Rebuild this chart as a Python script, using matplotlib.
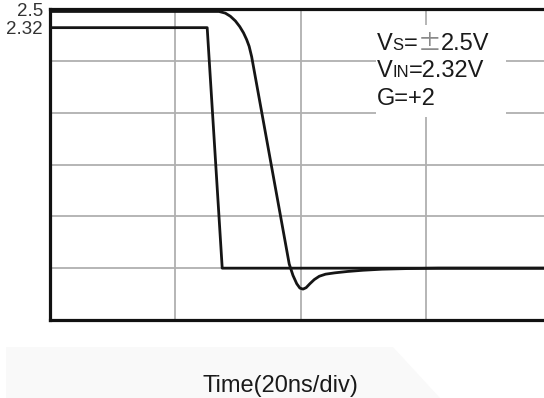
import matplotlib
matplotlib.use("Agg")
import matplotlib.pyplot as plt
import matplotlib.transforms as mtransforms
from matplotlib.patches import Rectangle, Polygon
import numpy as np

plt.rcParams["font.family"] = ["Liberation Sans", "DejaVu Sans"]

# time axis in ns (20 ns/div), voltage in V (0.5 V/div)
T_SPAN = 80
V_MIN, V_MAX = -0.5, 2.5

# input step
vin_t = [0.0, 25.1, 27.5, 80.0]
vin_v = [2.32, 2.32, 0.0, 0.0]

# output response (G=+2, clipped at the rail, then slews down)
vout_t = [0.0, 27.0, 28.0, 28.8, 29.6, 30.3, 30.9, 31.4, 31.8, 32.2,
          33.7, 35.2, 36.7, 38.2, 38.8, 39.4, 39.9, 40.4, 40.9, 41.5,
          42.2, 43.0, 44.0, 45.5, 47.5, 50.0, 53.0, 57.0, 62.0, 80.0]
vout_v = [2.476, 2.476, 2.460, 2.430, 2.385, 2.330, 2.270, 2.205, 2.140, 2.040,
          1.540, 1.040, 0.540, 0.040, -0.070, -0.150, -0.192, -0.202, -0.188, -0.150,
          -0.110, -0.078, -0.058, -0.045, -0.032, -0.020, -0.010, -0.004, 0.0, 0.0]

y_labels = [2.5, 2.32]

fig = plt.figure(figsize=(5.44, 3.98), dpi=100)
W, H = 544, 398

# faint backdrop behind the axis caption
fig.patches.append(Polygon([(6 / W, 0), (6 / W, 51 / H), (393 / W, 51 / H), (440 / W, 0)],
                           closed=True, transform=fig.transFigure,
                           facecolor="#f9f9f9", edgecolor="none", zorder=0))

ax = fig.add_axes([50 / W, 78 / H, 501 / W, 311 / H])
ax.set_xlim(0, T_SPAN)
ax.set_ylim(V_MIN, V_MAX)

ax.set_xticks(np.arange(0, T_SPAN + 1, 20), minor=True)
ax.set_yticks(np.arange(V_MIN, V_MAX + 0.01, 0.5), minor=True)
ax.grid(which="minor", color="#b0b0b0", lw=1.3)
ax.set_xticks([])
ax.set_yticks(y_labels)
ax.set_yticklabels([f"{v:g}" for v in y_labels])
ax.tick_params(axis="y", which="both", length=0, pad=5, labelsize=13.5, labelcolor="#333333")
ax.tick_params(axis="x", which="minor", length=0)
ax.tick_params(axis="y", which="minor", length=0)
for s in ax.spines.values():
    s.set_linewidth(2.3)
    s.set_color("#111111")
ax.set_axisbelow(True)

ax.plot(vin_t, vin_v, color="#151515", lw=2.0, zorder=3)
ax.plot(vout_t, vout_v, color="#151515", lw=2.0, zorder=3)

# white panel behind the test conditions
ax.add_patch(Rectangle((52.0, 1.46), 20.8, 0.89, facecolor="white",
                       edgecolor="none", zorder=2))


def draw_runs(ax, x, y, runs):
    """Draw a line of text made of pieces with different sizes/colours/fonts."""
    renderer = fig.canvas.get_renderer()
    tr = ax.transData
    for s, size, color, family in runs:
        txt = ax.text(x, y, s, fontsize=size, color=color, transform=tr,
                      va="baseline", ha="left", zorder=4, family=family)
        ex = txt.get_window_extent(renderer)
        tr = mtransforms.offset_copy(txt.get_transform(), fig=fig,
                                     x=ex.width, units="dots")


big, small = 17, 12
col = "#1a1a1a"
lat = ["Liberation Sans", "DejaVu Sans"]
cjk = ["Noto Sans CJK SC", "DejaVu Sans"]
draw_runs(ax, 52.2, 2.106, [("V", big, col, lat), ("S", small, col, lat), ("=", big, col, lat),
                            ("\u00b1", big, "#8a8a8a", cjk), ("2.5V", big, col, lat)])
draw_runs(ax, 52.2, 1.846, [("V", big, col, lat), ("IN", small, col, lat),
                            ("=2.32V", big, col, lat)])
draw_runs(ax, 52.2, 1.577, [("G=+2", big, col, lat)])

fig.text(280 / W, 6 / H, "Time(20ns/div)", ha="center", va="baseline",
         fontsize=17, color="#1a1a1a")

fig.savefig("out.png", dpi=100)
